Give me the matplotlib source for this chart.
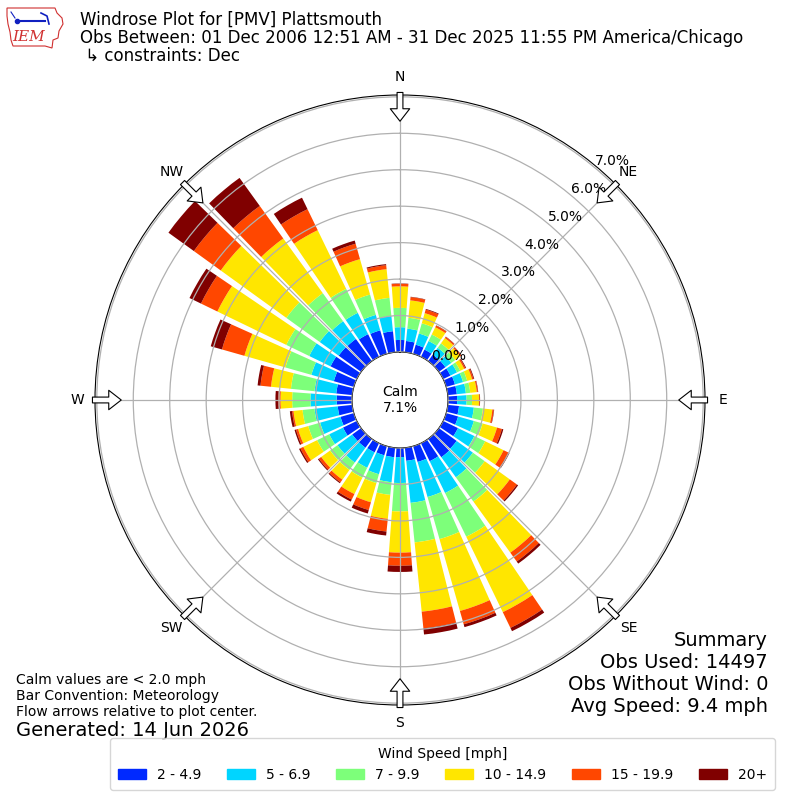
import matplotlib
matplotlib.use('Agg')
import matplotlib.pyplot as plt
import numpy as np
from matplotlib.patches import Patch, Polygon

# direction each bar points to (degrees, meteorological)
directions = np.arange(0, 360, 10)

# percent of observations per speed bin and direction
pct_2_5 = [.33, .31, .26, .22, .22, .22, .22, .25, .25, .25, .31, .34, .45, .60, .62, .55, .45, .36,
           .25, .26, .26, .28, .30, .30, .42, .38, .40, .42, .44, .57, .80, .76, .75, .69, .67, .58]
pct_5_7 = [.35, .34, .32, .26, .23, .20, .20, .23, .25, .26, .41, .45, .50, .55, .68, .97, 1.00, 1.16,
           .71, .69, .54, .47, .50, .50, .42, .58, .64, .72, .60, .64, .65, .64, .60, .65, .44, .42]
pct_7_10 = [.53, .30, .29, .20, .15, .13, .10, .12, .12, .15, .25, .25, .33, .40, .82, 1.33, 1.20, 1.09,
            .78, .35, .25, .30, .25, .25, .37, .34, .33, .50, .65, .74, .70, 1.13, .95, .73, .58, .50]
pct_10_15 = [.59, .48, .29, .22, .18, .17, .12, .14, .18, .19, .26, .41, .56, .85, 1.73, 2.30, 2.05, 1.91,
             1.13, .66, .55, .50, .33, .30, .42, .29, .25, .32, .55, 1.17, 2.10, 2.22, 1.85, 1.79, 1.01, .79]
pct_15_20 = [.07, .09, .10, .05, .04, .04, .04, .04, .03, .02, .04, .14, .15, .24, .30, .48, .38, .46,
             .36, .35, .22, .17, .09, .08, .09, .06, .04, .06, .29, .64, .50, .91, 1.10, .64, .44, .11]
pct_20 = [.01, .01, .02, .01, .01, .01, .02, .02, .01, .01, .01, .04, .03, .04, .07, .10, .08, .17,
          .17, .11, .10, .06, .03, .03, .04, .04, .06, .08, .08, .32, .35, .86, .95, .35, .09, .03]

speed_labels = ['2 - 4.9', '5 - 6.9', '7 - 9.9', '10 - 14.9', '15 - 19.9', '20+']
compass = ['N', 'NE', 'E', 'SE', 'S', 'SW', 'W', 'NW']
rings = np.arange(0, 8)
calm_pct = 7.1

colors = plt.cm.jet(np.arange(1, 7) / 6.0)
r_max = 7.05

fig = plt.figure(figsize=(8, 8), dpi=100)
ax = fig.add_axes([95 / 800, 95 / 800, 610 / 800, 610 / 800], polar=True)
ax.set_theta_zero_location('N')
ax.set_theta_direction(-1)

theta = np.deg2rad(directions)
bottom = np.zeros(len(directions))
for vals, col in zip([pct_2_5, pct_5_7, pct_7_10, pct_10_15, pct_15_20, pct_20], colors):
    vals = np.array(vals)
    ax.bar(theta, vals, width=np.deg2rad(8.3), bottom=bottom, color=col,
           edgecolor='none', zorder=1)
    bottom += vals

ax.set_rorigin(-1.317)
ax.set_ylim(0, r_max)
ax.set_axisbelow(False)
ax.grid(True, color='#b0b0b0', lw=0.9)
ax.set_yticks(rings)
ax.set_yticklabels([])
for r in rings:
    ax.text(np.deg2rad(40), r, f'{r:.1f}%', ha='left', va='bottom', fontsize=10, zorder=5)

ax.set_xticks(np.deg2rad(np.arange(0, 360, 45)))
ax.set_xticklabels(compass, fontsize=10)
ax.tick_params(axis='x', pad=2.5)

# flow arrows at the edge
for ang in np.arange(0, 360, 45):
    t = np.deg2rad(ang)
    ax.annotate('', xy=(t, 6.33), xytext=(t, 7.12), annotation_clip=False,
                arrowprops=dict(arrowstyle='simple,head_length=0.9,head_width=1.4,tail_width=0.42',
                                fc='white', ec='black', lw=0.8, shrinkA=0, shrinkB=0),
                zorder=6)

ax.text(0.5, 0.5, f'Calm\n{calm_pct:.1f}%', transform=ax.transAxes, ha='center',
        va='center', fontsize=10)

# header
fig.text(0.1, 1 - 20 / 800, 'Windrose Plot for [PMV] Plattsmouth', fontsize=12, va='center')
fig.text(0.1, 1 - 38 / 800,
         'Obs Between: 01 Dec 2006 12:51 AM - 31 Dec 2025 11:55 PM America/Chicago',
         fontsize=12, va='center')
fig.text(0.1, 1 - 56 / 800, ' \u21b3 constraints: Dec', fontsize=12, va='center')

# logo
lax = fig.add_axes([5 / 800, 1 - 50 / 800, 62 / 800, 46 / 800])
lax.set_xlim(0, 62)
lax.set_ylim(46, 0)
lax.axis('off')
iowa = [(2, 4), (50, 4), (52, 9), (57, 14), (58, 20), (54, 27), (53, 34), (48, 36),
        (47, 44), (40, 42), (8, 42), (6, 36), (5, 28), (3, 20), (2, 12)]
lax.add_patch(Polygon(iowa, closed=True, fill=False, ec='#d03030', lw=0.8))
lax.plot([12, 40], [17, 17], color='#1020c0', lw=1.5)
lax.plot([12], [17], 'o', color='#1020c0', ms=3)
lax.plot([36, 42, 44], [9, 12, 20], color='#1020c0', lw=1.2)
lax.plot([6, 10], [8, 14], color='#1020c0', lw=0.8)
lax.text(24, 33, 'IEM', color='#d03030', fontsize=11, family='DejaVu Serif',
         style='italic', ha='center', va='center')

# footer text
fig.text(16 / 800, 1 - 680 / 800, 'Calm values are < 2.0 mph', fontsize=10, va='center')
fig.text(16 / 800, 1 - 696 / 800, 'Bar Convention: Meteorology', fontsize=10, va='center')
fig.text(16 / 800, 1 - 712 / 800, 'Flow arrows relative to plot center.', fontsize=10, va='center')
fig.text(16 / 800, 1 - 730 / 800, 'Generated: 14 Jun 2026', fontsize=14, va='center')

summary = ['Summary', 'Obs Used: 14497', 'Obs Without Wind: 0', 'Avg Speed: 9.4 mph']
for i, line in enumerate(summary):
    fig.text(768 / 800, 1 - (640 + 22 * i) / 800, line, fontsize=14, ha='right', va='center')

handles = [Patch(color=c, label=l) for c, l in zip(colors, speed_labels)]
fig.legend(handles=handles, loc='lower center', bbox_to_anchor=(0.553, 0.0125), ncol=6,
           title='Wind Speed [mph]', fontsize=10, title_fontsize=10, borderaxespad=0,
           columnspacing=1.85, borderpad=0.6)

fig.savefig('out.png', dpi=100)
